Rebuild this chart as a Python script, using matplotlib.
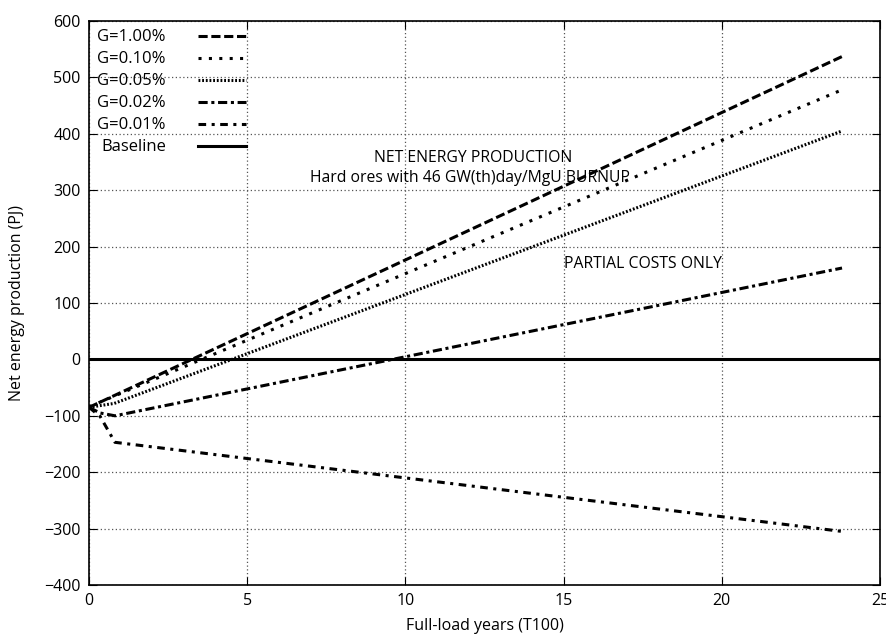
import numpy as np
import matplotlib.pyplot as plt

# curves (x = full-load years, y = PJ)
x_g100 = [0.0, 23.8]
y_g100 = [-85, 537]
x_g010 = [0.0, 23.8]
y_g010 = [-84, 478]
x_g005 = [0.0, 0.8, 23.8]
y_g005 = [-85, -78, 405]
x_g002 = [0.0, 0.35, 0.82, 23.8]
y_g002 = [-85, -95, -100, 162]
x_g001 = [0.0, 0.35, 0.82, 23.8]
y_g001 = [-85, -101, -147, -305]

labels = ["G=1.00%", "G=0.10%", "G=0.05%", "G=0.02%", "G=0.01%", "Baseline"]

plt.rcParams['font.family'] = ['Open Sans', 'DejaVu Sans']

fig = plt.figure(figsize=(8.86, 6.34), dpi=100)
ax = fig.add_axes([89/886, 1 - 585/634, (880 - 89)/886, (585 - 21)/634])

lw = 2.2
ax.plot(x_g100, y_g100, color='black', lw=lw, dashes=(3, 1.2), label=labels[0])
ax.plot(x_g010, y_g010, color='black', lw=lw, dashes=(1, 2.4), label=labels[1])
ax.plot(x_g005, y_g005, color='black', lw=lw, dashes=(0.6, 0.6), label=labels[2])
ax.plot(x_g002, y_g002, color='black', lw=lw, dashes=(3, 1.2, 1, 1.2), label=labels[3])
ax.plot(x_g001, y_g001, color='black', lw=lw, dashes=(2.5, 1.8, 1, 1.8), label=labels[4])
ax.axhline(0, color='black', lw=2.2, label=labels[5])

ax.set_xlim(0, 25)
ax.set_ylim(-400, 600)
ax.set_xticks(np.arange(0, 26, 5))
ax.set_yticks(np.arange(-400, 601, 100))
ax.grid(True, color='#555555', linestyle=(0, (1, 2)), linewidth=0.9)
ax.tick_params(direction='in', top=True, right=True, length=6, labelsize=11.5, pad=6)
for s in ax.spines.values():
    s.set_linewidth(1.2)

ax.text(12.15, 357, "NET ENERGY PRODUCTION", ha='center', va='center', fontsize=11.3)
ax.text(12.05, 321, "Hard ores with 46 GW(th)day/MgU BURNUP", ha='center', va='center', fontsize=11.3)
ax.text(15.0, 170, "PARTIAL COSTS ONLY", ha='left', va='center', fontsize=11.3)

ax.set_xlabel("Full-load years (T100)", fontsize=11.5, labelpad=6)
ax.set_ylabel("Net energy production (PJ)", fontsize=11.5, labelpad=14)

leg = ax.legend(loc='upper left', frameon=False, markerfirst=False, fontsize=12,
                handlelength=2.9, handletextpad=1.9, labelspacing=0.36,
                borderaxespad=0.2, borderpad=0.3)

plt.savefig("out.png", dpi=100)
